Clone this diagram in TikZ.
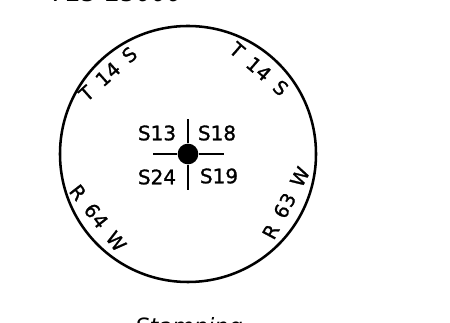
\documentclass[tikz,border=0pt]{standalone}
\usepackage{fontspec}
\setmainfont{DejaVu Sans}
\newfontfamily\labfont[FakeBold=1.2]{DejaVu Sans}
\newfontfamily\arcfont[FakeBold=1.2,LetterSpace=3.5,WordSpace=1.5]{DejaVu Sans}
\tikzset{
 ring/.style={draw=black,line width=1.9pt,circle,minimum size=192pt,inner sep=0pt},
 hub/.style={fill=black,circle,minimum size=15.5pt,inner sep=0pt},
 cross/.style={line width=1.6pt,black},
 lab/.style={font=\labfont\fontsize{15}{17}\selectfont,inner sep=0pt},
 arclab/.style={font=\arcfont\fontsize{14.5}{16}\selectfont,inner sep=0pt},
 captext/.style={font=\itshape\fontsize{18}{20}\selectfont,inner sep=0pt},
 captextb/.style={font=\itshape\fontsize{16.8}{19}\selectfont,inner sep=0pt}
}
\begin{document}
\begin{tikzpicture}[x=0.75pt,y=-0.75pt]
\useasboundingbox[fill=white] (0,0) rectangle (450,323);
\clip (0,0) rectangle (450,323);
\node[ring] (c) at (188,154) {};
\node[hub] (h) at (188,154) {};
\coordinate (n) at (188,119);
\coordinate (s) at (188,190);
\coordinate (w) at (153,154);
\coordinate (e) at (224,154);
\draw[cross] (h) -- (n);
\draw[cross] (h) -- (s);
\draw[cross] (h) -- (w);
\draw[cross] (h) -- (e);
\node[lab] (a) at (157,133) {S13};
\node[lab] (b) at (217,133) {S18};
\node[lab] (d) at (157,177) {S24};
\node[lab] (f) at (219,176) {S19};
\node[arclab,rotate=42] (t1) at (108,74) {T 14 S};
\node[arclab,rotate=-41] (t2) at (259,69) {T 14 S};
\node[arclab,rotate=-52] (r1) at (98,218) {R 64 W};
\node[arclab,rotate=62] (r2) at (286,203) {R 63 W};
\node[captext] (top) at (117,-7.5) {725-25000};
\node[captextb] (bot) at (189,328.5) {Stamping};
\end{tikzpicture}
\end{document}
